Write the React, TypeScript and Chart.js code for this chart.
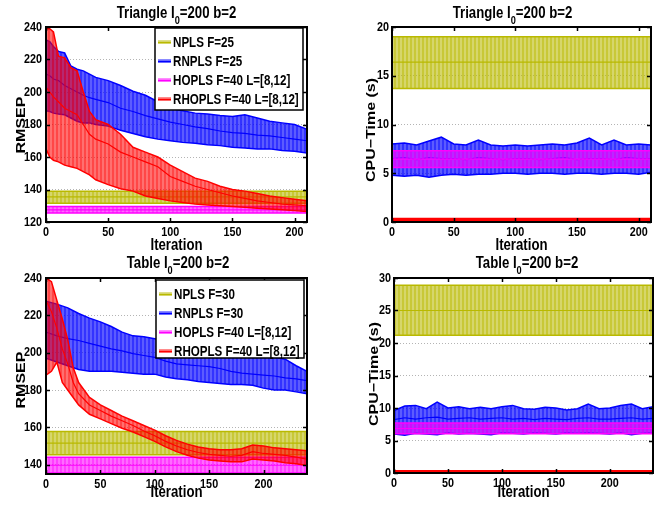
import React, { useEffect, useRef } from 'react';
import { Chart, registerables } from 'chart.js';
Chart.register(...registerables);

// ---------------- data ----------------
// Top-left: Triangle, RMSEP
const tlX = [0, 3, 6, 10, 15, 20, 25, 30, 35, 40, 50, 60, 70, 80, 90, 100, 110, 120, 130, 140, 150, 160, 170, 180, 190, 200, 210];
const tlRnplsHi = [232, 231, 228, 225, 224, 216, 214, 213, 211, 209, 207, 204, 200.5, 198, 194, 190, 188.5, 187, 186.5, 185.5, 185, 186, 184, 182, 181, 180, 177];
const tlRnplsMid = [211, 210, 208, 207, 204, 202, 200, 198, 196.5, 195.5, 193.5, 190, 188, 185.5, 183.5, 181.5, 180, 178.5, 177.5, 176, 175, 174.5, 173.5, 173, 172, 171, 170];
const tlRnplsLo = [188.5, 188, 187, 186.5, 186, 184, 182, 181, 181, 180, 179, 176.5, 174.5, 172.5, 171, 170, 169, 168.5, 167.5, 167, 166, 165.5, 165, 165, 164, 163.5, 162.5];
const tlRhoplsHi = [239, 239, 237, 222, 221, 215, 213, 200, 188, 183, 180, 174, 166, 163, 160, 155, 151, 147, 145, 142, 140, 139, 137.5, 136, 135, 134, 133];
const tlRhoplsMid = [203, 200, 197, 194, 190, 188, 186, 180, 174, 171, 168, 163, 160, 157, 154, 148, 145, 142, 140, 138, 136, 134.5, 133, 132, 131, 130.5, 130];
const tlRhoplsLo = [165, 160, 158, 157, 155, 154, 153, 151, 149, 146, 143, 140.5, 139, 136, 134.5, 133, 132, 131, 130.5, 130, 129.5, 129, 128.5, 128, 127.5, 127, 126.5];
const tlNpls = [131.5, 135.5, 139]; // lower, mean, upper
const tlHopls = [125.5, 127.5, 129.5];

// Top-right: Triangle, CPU time
const trX = [0, 10, 20, 30, 40, 50, 60, 70, 80, 90, 100, 110, 120, 130, 140, 150, 160, 170, 180, 190, 200, 210];
const trRnplsHi = [8.0, 8.1, 7.9, 8.3, 8.7, 8.0, 7.9, 8.4, 7.9, 7.8, 7.9, 7.8, 7.9, 8.0, 7.9, 8.1, 8.6, 7.9, 8.4, 7.9, 8.0, 7.9];
const trRnplsMid = [6.5, 6.6, 6.4, 6.6, 6.5, 6.5, 6.4, 6.6, 6.5, 6.4, 6.5, 6.5, 6.4, 6.5, 6.6, 6.4, 6.5, 6.5, 6.4, 6.6, 6.5, 6.5];
const trRnplsLo = [4.8, 4.7, 4.8, 4.6, 4.8, 4.9, 4.8, 4.9, 4.9, 5.0, 5.0, 4.9, 5.0, 5.0, 4.9, 5.0, 5.0, 4.9, 5.0, 5.0, 4.9, 5.1];
const trNpls = [13.7, 16.4, 19.0];
const trHopls = [5.6, 6.45, 7.3];
const trRhopls = [0.15, 0.25, 0.35];

// Bottom-left: Table, RMSEP
const blX = [0, 5, 10, 15, 20, 25, 30, 40, 50, 60, 70, 80, 90, 100, 110, 120, 130, 140, 150, 160, 170, 180, 190, 200, 210, 220, 230, 240];
const blRhoplsHi = [240, 238, 228, 218, 207, 192, 184, 176, 172, 169, 166, 163.5, 161, 158.5, 155.5, 153, 151, 149.5, 148.5, 148, 148, 148.5, 150.5, 150, 149, 148.5, 148, 147.5];
const blRhoplsMid = [228, 222, 213, 202, 194, 184, 178, 172, 169, 166, 163.5, 161, 158, 155.5, 152.5, 150, 148, 146.5, 145.5, 145, 144.5, 145, 147, 146, 145.5, 145, 144, 143];
const blRhoplsLo = [188, 190, 195, 184, 180, 176, 172, 167, 164.5, 162, 159.5, 157.5, 155, 152.5, 149.5, 147, 145, 143.5, 142.5, 142, 141.5, 141.5, 143, 142.5, 142, 141, 140.5, 139.5];
const blX10 = [0, 10, 20, 30, 40, 50, 60, 70, 80, 90, 100, 110, 120, 130, 140, 150, 160, 170, 180, 190, 200, 210, 220, 230, 240];
const blRnplsHi = [227.5, 226, 224, 221, 218.5, 216.5, 214, 211, 209, 208.5, 207.5, 206, 205, 204, 203, 202, 201, 200, 199, 198.5, 198, 197.5, 196.5, 193, 190];
const blRnplsMid = [211, 209, 207.5, 206.5, 205, 203.5, 202, 201, 199.5, 198.5, 197.5, 195.5, 194, 193.5, 193, 192.5, 191.5, 190, 189, 188.5, 188, 187.5, 186.5, 186, 185];
const blRnplsLo = [197, 195, 193, 191, 190, 190, 190, 189.5, 189, 188.5, 188.5, 187, 186, 185.5, 184.5, 184, 183.5, 183, 183, 182.5, 181, 180, 180, 179, 178];
const blNpls = [145.3, 151.5, 157.8];
const blHopls = [135.5, 139.7, 144];

// Bottom-right: Table, CPU time
const brX = [0, 10, 20, 30, 40, 50, 60, 70, 80, 90, 100, 110, 120, 130, 140, 150, 160, 170, 180, 190, 200, 210, 220, 230, 240];
const brRnplsHi = [9.6, 10.3, 10.4, 9.9, 10.9, 10.0, 10.2, 9.9, 10.1, 9.9, 10.2, 10.4, 9.9, 9.8, 10.1, 10.0, 9.7, 9.9, 10.6, 9.9, 10.0, 10.4, 10.6, 9.9, 10.2];
const brRnplsMid = [8.2, 8.5, 8.3, 8.5, 8.6, 8.3, 8.4, 8.5, 8.3, 8.4, 8.5, 8.3, 8.4, 8.2, 8.4, 8.3, 8.2, 8.4, 8.5, 8.3, 8.3, 8.4, 8.5, 8.3, 8.4];
const brRnplsLo = [6.0, 5.8, 6.1, 6.0, 5.9, 6.2, 6.0, 6.1, 6.0, 5.9, 6.2, 6.1, 6.0, 6.2, 6.1, 6.0, 6.2, 6.1, 6.2, 6.1, 6.0, 6.2, 5.9, 6.1, 6.2];
const brNpls = [21.2, 25.0, 28.9];
const brHopls = [6.05, 6.85, 7.7];
const brRhopls = [0.15, 0.25, 0.35];

// labels & ticks
const triLabels = ['NPLS F=25', 'RNPLS F=25', 'HOPLS F=40 L=[8,12]', 'RHOPLS F=40 L=[8,12]'];
const tabLabels = ['NPLS F=30', 'RNPLS F=30', 'HOPLS F=40 L=[8,12]', 'RHOPLS F=40 L=[8,12]'];
const xTicks = [0, 50, 100, 150, 200];
const tlYTicks = [120, 140, 160, 180, 200, 220, 240];
const blYTicks = [140, 160, 180, 200, 220, 240];
const trYTicks = [0, 5, 10, 15, 20];
const brYTicks = [0, 5, 10, 15, 20, 25, 30];

// ---------------- styling ----------------
const FR = '"Liberation Sans", Arial, sans-serif';
const SX = 0.8; // horizontal condensing of the original figure's text
const COL = {
  npls: [185, 185, 0],
  rnpls: [0, 0, 255],
  hopls: [255, 0, 255],
  rhopls: [255, 0, 0],
};

function rgb(c: number[], a = 1) {
  return `rgba(${c[0]},${c[1]},${c[2]},${a})`;
}

function stripe(c: number[], a1: number, a2: number) {
  const cv = document.createElement('canvas');
  cv.width = 4;
  cv.height = 1;
  const g = cv.getContext('2d')!;
  g.fillStyle = rgb(c, a1);
  g.fillRect(0, 0, 2, 1);
  g.fillStyle = rgb(c, a2);
  g.fillRect(2, 0, 2, 1);
  return g.createPattern(cv, 'repeat');
}

function nText(ctx: CanvasRenderingContext2D, text: string, x: number, y: number, size: number, align: CanvasTextAlign, base: CanvasTextBaseline, vertical = false) {
  ctx.save();
  ctx.font = `bold ${size}px ${FR}`;
  ctx.textAlign = align;
  ctx.textBaseline = base;
  ctx.translate(x, y);
  if (vertical) {
    ctx.rotate(-Math.PI / 2);
    ctx.scale(1, SX);
  } else {
    ctx.scale(SX, 1);
  }
  ctx.fillText(text, 0, 0);
  ctx.restore();
}

function nWidth(ctx: CanvasRenderingContext2D, text: string, size: number) {
  ctx.save();
  ctx.font = `bold ${size}px ${FR}`;
  const w = ctx.measureText(text).width * SX;
  ctx.restore();
  return w;
}

type Band = { label: string; color: number[]; x: number[]; lo: number[]; mid: number[]; hi: number[]; order: number; a1: number; a2: number };

function flat(label: string, color: number[], xMax: number, v: number[], order: number, a1: number, a2: number): Band {
  return { label, color, x: [0, xMax], lo: [v[0], v[0]], mid: [v[1], v[1]], hi: [v[2], v[2]], order, a1, a2 };
}

type Spec = {
  left: number; top: number; w: number; h: number;
  area: { l: number; t: number; r: number; b: number };
  xMax: number; yMin: number; yMax: number; yTicks: number[]; yTickGap: number;
  yTitle: string; yTitleX: number; yTitleY: number; xTitleY: number;
  title: string[]; titleCx: number;
  legend: null | { x: number; y: number; w: number; h: number; labels: string[] };
  bands: Band[];
};

const specs: Spec[] = [
  {
    left: 0, top: 0, w: 330, h: 252,
    area: { l: 46, t: 27, r: 307, b: 222 },
    xMax: 210, yMin: 120, yMax: 240, yTicks: tlYTicks, yTickGap: 4,
    yTitle: 'RMSEP', yTitleX: 21, yTitleY: 125, xTitleY: 250,
    title: ['Triangle I', '0', '=200 b=2'], titleCx: 176.5,
    legend: { x: 155, y: 28, w: 148, h: 82, labels: triLabels },
    bands: [
      flat(triLabels[0], COL.npls, 210, tlNpls, 40, 0.78, 0.58),
      { label: triLabels[1], color: COL.rnpls, x: tlX, lo: tlRnplsLo, mid: tlRnplsMid, hi: tlRnplsHi, order: 30, a1: 0.8, a2: 0.64 },
      flat(triLabels[2], COL.hopls, 210, tlHopls, 20, 0.75, 0.58),
      { label: triLabels[3], color: COL.rhopls, x: tlX, lo: tlRhoplsLo, mid: tlRhoplsMid, hi: tlRhoplsHi, order: 10, a1: 0.72, a2: 0.56 },
    ],
  },
  {
    left: 330, top: 0, w: 335, h: 252,
    area: { l: 62, t: 27, r: 321, b: 222 },
    xMax: 210, yMin: 0, yMax: 20, yTicks: trYTicks, yTickGap: 3,
    yTitle: 'CPU\u2212Time (s)', yTitleX: 41, yTitleY: 130, xTitleY: 250,
    title: ['Triangle I', '0', '=200 b=2'], titleCx: 182.5,
    legend: null,
    bands: [
      flat(triLabels[0], COL.npls, 210, trNpls, 40, 0.78, 0.58),
      { label: triLabels[1], color: COL.rnpls, x: trX, lo: trRnplsLo, mid: trRnplsMid, hi: trRnplsHi, order: 30, a1: 0.8, a2: 0.64 },
      flat(triLabels[2], COL.hopls, 210, trHopls, 20, 0.75, 0.58),
      flat(triLabels[3], COL.rhopls, 210, trRhopls, 10, 0.85, 0.75),
    ],
  },
  {
    left: 0, top: 250, w: 330, h: 258,
    area: { l: 46, t: 28, r: 307, b: 224 },
    xMax: 240, yMin: 135, yMax: 240, yTicks: blYTicks, yTickGap: 4,
    yTitle: 'RMSEP', yTitleX: 21, yTitleY: 130, xTitleY: 247,
    title: ['Table I', '0', '=200 b=2'], titleCx: 178,
    legend: { x: 156, y: 30, w: 148, h: 78, labels: tabLabels },
    bands: [
      flat(tabLabels[0], COL.npls, 240, blNpls, 40, 0.78, 0.58),
      { label: tabLabels[1], color: COL.rnpls, x: blX10, lo: blRnplsLo, mid: blRnplsMid, hi: blRnplsHi, order: 30, a1: 0.8, a2: 0.64 },
      flat(tabLabels[2], COL.hopls, 240, blHopls, 20, 0.75, 0.58),
      { label: tabLabels[3], color: COL.rhopls, x: blX, lo: blRhoplsLo, mid: blRhoplsMid, hi: blRhoplsHi, order: 10, a1: 0.72, a2: 0.56 },
    ],
  },
  {
    left: 330, top: 250, w: 335, h: 258,
    area: { l: 64, t: 28, r: 323, b: 223 },
    xMax: 240, yMin: 0, yMax: 30, yTicks: brYTicks, yTickGap: 3,
    yTitle: 'CPU\u2212Time (s)', yTitleX: 44, yTitleY: 124, xTitleY: 247,
    title: ['Table I', '0', '=200 b=2'], titleCx: 197,
    legend: null,
    bands: [
      flat(tabLabels[0], COL.npls, 240, brNpls, 40, 0.78, 0.58),
      { label: tabLabels[1], color: COL.rnpls, x: brX, lo: brRnplsLo, mid: brRnplsMid, hi: brRnplsHi, order: 30, a1: 0.8, a2: 0.64 },
      flat(tabLabels[2], COL.hopls, 240, brHopls, 20, 0.75, 0.58),
      flat(tabLabels[3], COL.rhopls, 240, brRhopls, 10, 0.85, 0.75),
    ],
  },
];

function buildConfig(s: Spec): any {
  const datasets: any[] = [];
  for (const b of s.bands) {
    const iHi = datasets.length;
    const pts = (arr: number[]) => b.x.map((x, i) => ({ x, y: arr[i] }));
    datasets.push({ label: b.label + ' upper', data: pts(b.hi), borderColor: rgb(b.color), borderWidth: 1.5, fill: false, order: b.order + 1 });
    datasets.push({ label: b.label + ' lower', data: pts(b.lo), borderColor: rgb(b.color), borderWidth: 1.5, fill: iHi, backgroundColor: stripe(b.color, b.a1, b.a2), order: b.order + 2 });
    datasets.push({ label: b.label, data: pts(b.mid), borderColor: rgb(b.color), borderWidth: 1.2, fill: false, order: b.order });
  }

  const deco = {
    id: 'deco',
    afterDatasetsDraw(chart: any) {
      const { ctx, chartArea: a } = chart;
      const x = chart.scales.x;
      const y = chart.scales.y;
      ctx.save();
      ctx.strokeStyle = '#000';
      ctx.lineWidth = 1.5;
      ctx.beginPath();
      for (const t of x.ticks) {
        const px = Math.round(x.getPixelForValue(t.value)) + 0.5;
        ctx.moveTo(px, a.bottom); ctx.lineTo(px, a.bottom - 4);
        ctx.moveTo(px, a.top); ctx.lineTo(px, a.top + 4);
      }
      for (const t of y.ticks) {
        const py = Math.round(y.getPixelForValue(t.value)) + 0.5;
        ctx.moveTo(a.left, py); ctx.lineTo(a.left + 4, py);
        ctx.moveTo(a.right, py); ctx.lineTo(a.right - 4, py);
      }
      ctx.stroke();
      ctx.lineWidth = 2;
      ctx.strokeRect(a.left, a.top, a.right - a.left, a.bottom - a.top);
      ctx.restore();
    },
    afterDraw(chart: any) {
      const ctx: CanvasRenderingContext2D = chart.ctx;
      const a = chart.chartArea;
      const x = chart.scales.x;
      const y = chart.scales.y;
      ctx.save();
      ctx.fillStyle = '#000';

      // tick labels
      for (const t of x.ticks) {
        nText(ctx, String(t.value), x.getPixelForValue(t.value), a.bottom + 4, 13.5, 'center', 'top');
      }
      for (const t of y.ticks) {
        nText(ctx, String(t.value), a.left - s.yTickGap, y.getPixelForValue(t.value), 13.5, 'right', 'middle');
      }
      // axis titles
      nText(ctx, 'Iteration', (a.left + a.right) / 2, s.xTitleY, 16.5, 'center', 'alphabetic');
      nText(ctx, s.yTitle, s.yTitleX, s.yTitleY, 16, 'center', 'middle', true);

      // chart title with subscript
      const w1 = nWidth(ctx, s.title[0], 16.5);
      const w2 = nWidth(ctx, s.title[1], 11.5);
      const w3 = nWidth(ctx, s.title[2], 16.5);
      let tx = s.titleCx - (w1 + w2 + w3) / 2;
      nText(ctx, s.title[0], tx, 18, 16.5, 'left', 'alphabetic');
      tx += w1;
      nText(ctx, s.title[1], tx, 24, 11.5, 'left', 'alphabetic');
      tx += w2;
      nText(ctx, s.title[2], tx, 18, 16.5, 'left', 'alphabetic');

      if (s.legend) {
        const L = s.legend;
        ctx.fillStyle = '#fff';
        ctx.fillRect(L.x, L.y, L.w, L.h);
        ctx.strokeStyle = '#000';
        ctx.lineWidth = 1.5;
        ctx.strokeRect(L.x, L.y, L.w, L.h);
        L.labels.forEach((lab, i) => {
          const yy = L.y + 14 + i * 19;
          const c = s.bands[i].color;
          ctx.fillStyle = rgb(c, 0.45);
          ctx.fillRect(L.x + 3, yy - 2, 13, 4);
          ctx.strokeStyle = rgb(c);
          ctx.lineWidth = 1.5;
          ctx.beginPath();
          ctx.moveTo(L.x + 3, yy + 0.5);
          ctx.lineTo(L.x + 16, yy + 0.5);
          ctx.stroke();
          ctx.fillStyle = '#000';
          nText(ctx, lab, L.x + 18, yy + 1, 14.5, 'left', 'middle');
        });
      }
      ctx.restore();
    },
  };

  return {
    type: 'line',
    data: { datasets },
    options: {
      animation: false,
      responsive: false,
      devicePixelRatio: 1,
      layout: { padding: { top: s.area.t, right: s.w - s.area.r, left: 0, bottom: 0 } },
      elements: { point: { radius: 0 }, line: { tension: 0 } },
      plugins: { legend: { display: false }, tooltip: { enabled: false }, title: { display: false } },
      scales: {
        x: {
          type: 'linear', min: 0, max: s.xMax,
          afterBuildTicks: (ax: any) => { ax.ticks = xTicks.map((v) => ({ value: v })); },
          afterFit: (ax: any) => { ax.height = s.h - s.area.b; },
          grid: { display: false, drawTicks: false },
          border: { display: false },
          ticks: { display: false },
          title: { display: false },
        },
        y: {
          type: 'linear', min: s.yMin, max: s.yMax,
          afterBuildTicks: (ax: any) => { ax.ticks = s.yTicks.map((v) => ({ value: v })); },
          afterFit: (ax: any) => { ax.width = s.area.l; },
          grid: { color: '#b4b4b4', lineWidth: 1, drawTicks: false, borderDash: [1, 2] },
          border: { display: false, dash: [1, 2] },
          ticks: { display: false },
          title: { display: false },
        },
      },
    },
    plugins: [deco],
  };
}

function Panel({ spec }: { spec: Spec }) {
  const ref = useRef<HTMLCanvasElement>(null);
  useEffect(() => {
    const chart = new Chart(ref.current as HTMLCanvasElement, buildConfig(spec));
    return () => chart.destroy();
  }, [spec]);
  return (
    <canvas
      ref={ref}
      width={spec.w}
      height={spec.h}
      style={{ position: 'absolute', left: spec.left, top: spec.top, width: spec.w, height: spec.h }}
    />
  );
}

export default function App() {
  return (
    <div style={{ position: 'fixed', left: 0, top: 0, width: 665, height: 508, background: '#fff', overflow: 'hidden' }}>
      {specs.map((s, i) => (
        <Panel key={i} spec={s} />
      ))}
    </div>
  );
}
